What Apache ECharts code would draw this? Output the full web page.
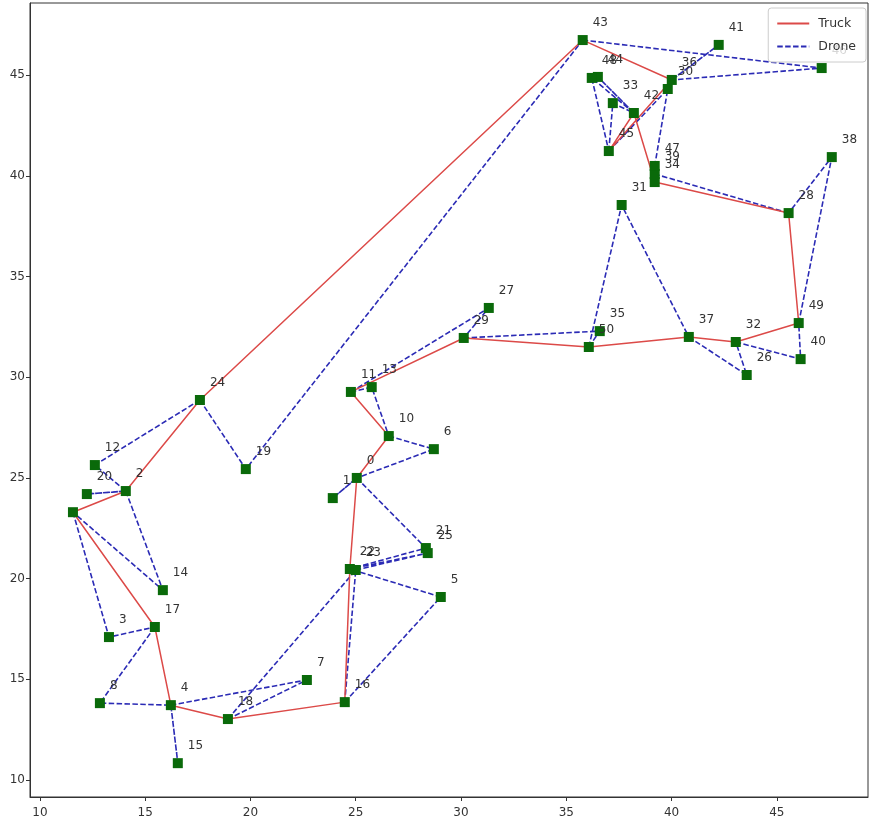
<!DOCTYPE html>
<html>
<head>
<meta charset="utf-8">
<script src="https://cdn.jsdelivr.net/npm/echarts@6/dist/echarts.min.js"></script>
<style>
  html, body { margin: 0; padding: 0; background: #ffffff; }
  #chart { width: 872px; height: 830px; }
</style>
</head>
<body>
<div id="chart"></div>
<script>
// Customer / depot nodes (index = node id)
const nodeIds = [
  0, 1, 2, 3, 4, 5, 6, 7, 8, 9,
  10, 11, 12, 13, 14, 15, 16, 17, 18, 19,
  20, 21, 22, 23, 24, 25, 26, 27, 28, 29,
  30, 31, 32, 33, 34, 35, 36, 37, 38, 39,
  40, 41, 42, 43, 44, 45, 46, 47, 48, 49, 50
];
const nodeX = [
  25.05, 23.91, 14.08, 13.28, 16.22, 29.04, 28.71, 22.68, 12.85, 11.57,
  26.57, 24.77, 12.61, 25.76, 15.84, 16.55, 24.48, 15.46, 18.93, 19.78,
  12.23, 28.33, 24.72, 25.00, 17.60, 28.42, 43.57, 31.32, 45.56, 30.13,
  39.82, 37.63, 43.05, 37.21, 39.20, 36.59, 40.01, 40.82, 47.61, 39.20,
  46.13, 42.24, 38.21, 35.78, 36.50, 37.02, 47.13, 39.20, 36.21, 46.04, 36.07
];
const nodeY = [
  25.00, 24.00, 24.35, 17.10, 13.72, 19.09, 26.43, 14.97, 13.82, 23.30,
  27.08, 29.27, 25.64, 29.51, 19.43, 10.84, 13.87, 17.60, 13.03, 25.44,
  24.20, 21.52, 20.48, 20.43, 28.87, 21.27, 30.11, 33.44, 38.15, 31.95,
  44.31, 38.55, 31.75, 43.61, 39.69, 32.29, 44.76, 32.00, 40.93, 40.09,
  30.90, 46.50, 43.12, 46.74, 44.91, 41.23, 45.35, 40.49, 44.86, 32.69, 31.50
];

// Node whose id label sits under the neighbouring marker
const hiddenLabels = [9];

// Truck tour (closed, starting and ending at the depot)
const truckRoute = [0, 10, 11, 29, 50, 37, 32, 49, 28, 34, 42, 45, 36, 43, 24, 2, 9, 17, 4, 18, 16, 22, 0];

// Drone sorties: launch node, served customer, recovery node
const droneSorties = [
  [0, 1, 0], [0, 21, 22], [23, 25, 22], [10, 6, 0], [11, 13, 10],
  [11, 27, 29], [29, 35, 50], [50, 31, 37], [37, 26, 32], [32, 40, 49],
  [49, 38, 28], [28, 39, 34], [34, 47, 30], [42, 48, 45], [42, 44, 42],
  [45, 33, 42], [45, 30, 36], [36, 41, 36], [43, 46, 36], [24, 19, 43],
  [24, 12, 2], [2, 20, 2], [2, 14, 9], [9, 3, 17], [17, 8, 4],
  [4, 15, 4], [4, 7, 18], [18, 23, 16], [16, 5, 22]
];

// Axis ticks
const xTicks = [10, 15, 20, 25, 30, 35, 40, 45];
const yTicks = [10, 15, 20, 25, 30, 35, 40, 45];
const xRange = [9.53, 49.33];
const yRange = [9.16, 48.58];

const pt = i => [nodeX[i], nodeY[i]];

const truckColor = '#dc4a48';
const droneColor = '#2b2bb5';

const series = [];

droneSorties.forEach(s => {
  series.push({
    name: 'Drone',
    type: 'line',
    data: s.map(pt),
    symbol: 'none',
    silent: true,
    z: 2,
    lineStyle: { color: droneColor, width: 1.6, type: [5.5, 2.4] },
    itemStyle: { color: droneColor }
  });
});

series.push({
  name: 'Truck',
  type: 'line',
  data: truckRoute.map(pt),
  symbol: 'none',
  silent: true,
  z: 3,
  lineStyle: { color: truckColor, width: 1.5 },
  itemStyle: { color: truckColor }
});

series.push({
  name: 'Nodes',
  type: 'scatter',
  data: nodeIds.map(i => {
    const item = { value: [nodeX[i], nodeY[i], i] };
    if (hiddenLabels.includes(i)) item.label = { show: false };
    return item;
  }),
  symbol: 'rect',
  symbolSize: 10,
  z: 5,
  itemStyle: { color: '#0a6a0a', opacity: 1 },
  label: {
    show: true,
    formatter: p => String(p.value[2]),
    position: [15, -6],
    align: 'left',
    verticalAlign: 'bottom',
    color: '#333333',
    fontSize: 12,
    fontFamily: 'DejaVu Sans'
  }
});

const chart = echarts.init(document.getElementById('chart'), null, { renderer: 'canvas' });
chart.setOption({
  animation: false,
  backgroundColor: '#ffffff',
  textStyle: { fontFamily: 'DejaVu Sans' },
  grid: {
    left: 30, right: 4, top: 3, bottom: 33,
    show: true, borderColor: '#333', borderWidth: 1, backgroundColor: 'transparent'
  },
  legend: {
    data: ['Truck', 'Drone'],
    z: 50,
    orient: 'vertical',
    right: 6,
    top: 8,
    itemWidth: 32,
    itemHeight: 11,
    itemGap: 10,
    padding: [9, 10, 9, 8],
    itemStyle: { opacity: 0 },
    backgroundColor: 'rgba(255,255,255,0.8)',
    borderColor: '#cccccc',
    borderWidth: 1,
    borderRadius: 3,
    textStyle: { color: '#333', fontSize: 12.5, fontFamily: 'DejaVu Sans', padding: [0, 0, 0, 4] }
  },
  xAxis: {
    type: 'value',
    min: xRange[0],
    max: xRange[1],
    axisLine: { show: true, lineStyle: { color: '#333', width: 1 } },
    axisTick: { show: true, customValues: xTicks, length: 4, lineStyle: { color: '#333' } },
    axisLabel: { customValues: xTicks, color: '#333', fontSize: 12, margin: 10 },
    splitLine: { show: false }
  },
  yAxis: {
    type: 'value',
    min: yRange[0],
    max: yRange[1],
    axisLine: { show: true, lineStyle: { color: '#333', width: 1 } },
    axisTick: { show: true, customValues: yTicks, length: 4, lineStyle: { color: '#333' } },
    axisLabel: { customValues: yTicks, color: '#333', fontSize: 12, margin: 5 },
    splitLine: { show: false }
  },
  series: series
});
</script>
</body>
</html>
